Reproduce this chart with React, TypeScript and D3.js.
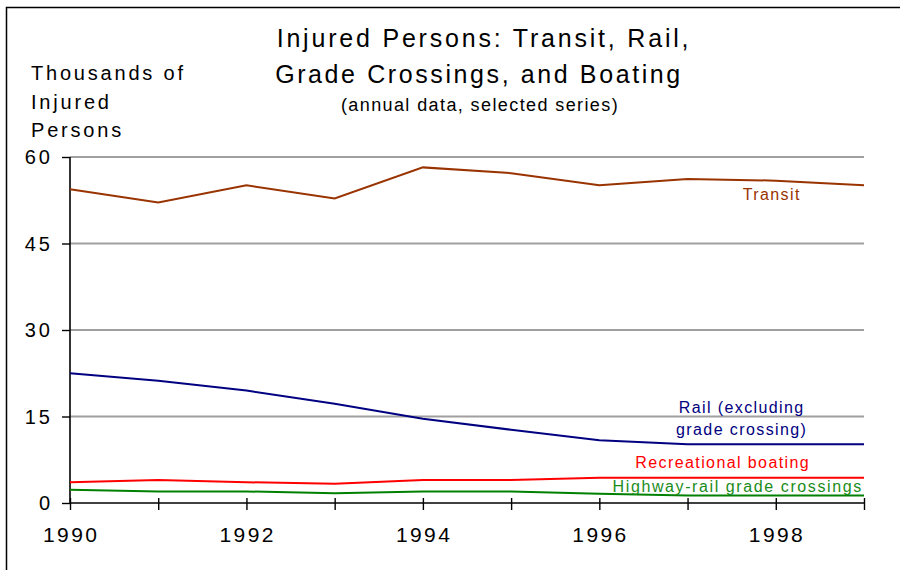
import * as d3 from 'd3'
import {useEffect, useRef} from 'react'

const years = [1990, 1991, 1992, 1993, 1994, 1995, 1996, 1997, 1998, 1999]
const transit = [54.4, 52.1, 55.1, 52.8, 58.2, 57.2, 55.1, 56.2, 55.9, 55.1]
const rail = [22.5, 21.2, 19.5, 17.2, 14.6, 12.7, 10.9, 10.2, 10.2, 10.2]
const boating = [3.6, 4.0, 3.6, 3.35, 4.0, 4.0, 4.4, 4.4, 4.4, 4.4]
const crossings = [2.3, 2.0, 2.0, 1.7, 2.0, 2.0, 1.6, 1.3, 1.3, 1.3]
const yTicks = [0, 15, 30, 45, 60]
const xTickLabels = [1990, 1992, 1994, 1996, 1998]

const seriesList = [
  {name: 'Transit', values: transit, color: '#993300', label: ['Transit'], lx: 771, ly: 200},
  {name: 'Rail', values: rail, color: '#000080', label: ['Rail  (excluding', 'grade crossing)'], lx: 741, ly: 413},
  {name: 'Boating', values: boating, color: '#ff0000', label: ['Recreational  boating'], lx: 722, ly: 468},
  {name: 'Crossings', values: crossings, color: '#008000', label: ['Highway-rail  grade  crossings'], lx: 737, ly: 492},
]

export default function App() {
  const ref = useRef<SVGSVGElement>(null)

  useEffect(() => {
    const svg = d3.select(ref.current)
    svg.selectAll('*').remove()
    const font = '"Liberation Sans", Arial, sans-serif'
    const left = 70
    const right = 864
    const top = 157
    const bottom = 503

    const x = d3.scaleLinear().domain([1990, 1999]).range([left, right])
    const y = d3.scaleLinear().domain([0, 60]).range([bottom, top])

    // frame
    svg
      .append('path')
      .attr('d', 'M6.5,570 L6.5,7.5 L900,7.5')
      .attr('fill', 'none')
      .attr('stroke', '#000')
      .attr('stroke-width', 1.5)

    // titles
    const title = svg.append('g').attr('font-family', font).attr('fill', '#000').attr('text-anchor', 'middle')
    title.append('text').attr('x', 484).attr('y', 47).attr('font-size', 25).attr('letter-spacing', 2.8).text('Injured Persons: Transit, Rail,')
    title.append('text').attr('x', 479).attr('y', 83).attr('font-size', 25).attr('letter-spacing', 2.6).text('Grade Crossings, and Boating')
    title.append('text').attr('x', 480).attr('y', 111).attr('font-size', 18).attr('letter-spacing', 1.4).text('(annual data, selected series)')

    const yl = svg.append('g').attr('font-family', font).attr('font-size', 20).attr('letter-spacing', 2.8)
    ;['Thousands of', 'Injured', 'Persons'].forEach((t, i) => {
      yl.append('text').attr('x', 31).attr('y', 80 + i * 28.5).text(t)
    })

    // gridlines
    svg
      .append('g')
      .selectAll('line')
      .data(yTicks.filter(d => d > 0))
      .enter()
      .append('line')
      .attr('x1', left)
      .attr('x2', right)
      .attr('y1', d => y(d))
      .attr('y2', d => y(d))
      .attr('stroke', '#a0a0a0')
      .attr('stroke-width', 2)

    // y axis
    const yAxis = d3.axisLeft(y).tickValues(yTicks).tickSize(8).tickFormat(() => '')
    const gy = svg.append('g').attr('transform', `translate(${left},0)`).call(yAxis)
    gy.select('.domain').attr('stroke', '#000').attr('stroke-width', 1.6).attr('d', `M0,${top}V${bottom}`)
    gy.selectAll('.tick line').attr('stroke', '#000').attr('stroke-width', 1.4)
    svg
      .append('g')
      .selectAll('text')
      .data(yTicks)
      .enter()
      .append('text')
      .attr('x', 53)
      .attr('y', d => y(d))
      .attr('dy', '0.36em')
      .attr('text-anchor', 'end')
      .attr('font-family', font)
      .attr('font-size', 20)
      .attr('letter-spacing', 3)
      .text(d => d)

    // x axis
    const xAxis = d3.axisBottom(x).tickValues(years).tickSize(0).tickFormat(() => '')
    const gx = svg.append('g').attr('transform', `translate(0,${bottom})`).call(xAxis)
    gx.select('.domain').attr('stroke', '#000').attr('stroke-width', 1.6).attr('d', `M${left},0H${right}`)
    gx.selectAll('.tick line').attr('stroke', '#000').attr('stroke-width', 1.4).attr('y1', -5).attr('y2', 7)
    svg
      .append('g')
      .selectAll('text')
      .data(xTickLabels)
      .enter()
      .append('text')
      .attr('x', d => x(d) + 1.2)
      .attr('y', 542)
      .attr('text-anchor', 'middle')
      .attr('font-family', font)
      .attr('font-size', 21)
      .attr('letter-spacing', 2.4)
      .text(d => d)

    // lines
    const line = d3
      .line<number>()
      .x((_, i) => x(years[i]))
      .y(d => y(d))
    for (const s of seriesList) {
      svg
        .append('path')
        .datum(s.values)
        .attr('d', line)
        .attr('fill', 'none')
        .attr('stroke', s.color)
        .attr('stroke-width', 2)
      s.label.forEach((t, i) => {
        svg
          .append('text')
          .attr('x', s.lx + 0.7)
          .attr('y', s.ly + i * 21.5)
          .attr('text-anchor', 'middle')
          .attr('font-family', font)
          .attr('font-size', 16)
          .attr('letter-spacing', s.name === 'Crossings' ? 1.6 : 1.4)
          .attr('fill', s.color === '#008000' ? '#1a8c1a' : s.color)
          .text(t)
      })
    }
  }, [])

  return <svg ref={ref} width={900} height={570} style={{position: 'absolute', left: 0, top: 0, background: '#fff'}} />
}
